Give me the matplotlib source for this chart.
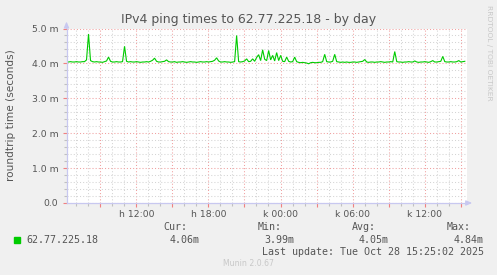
import numpy as np
import matplotlib
matplotlib.use("Agg")
import matplotlib.pyplot as plt
from matplotlib.ticker import MultipleLocator, FuncFormatter

# ---- data ----
title = "IPv4 ping times to 62.77.225.18 - by day"
ylabel = "roundtrip time (seconds)"
series_name = "62.77.225.18"
start_hour = 6.18          # hours since Mon 00:00 (first sample)
step_hour = 1.0 / 6.0      # 10-minute samples
x_range = (6.18, 39.53)
ping_ms = [
    4.05, 4.04, 4.05, 4.04, 4.04, 4.05, 4.04, 4.04, 4.05, 4.05,
    4.10, 4.84, 4.08, 4.05, 4.04, 4.05, 4.04, 4.04, 4.03, 4.05,
    4.07, 4.18, 4.06, 4.04, 4.04, 4.05, 4.04, 4.04, 4.05, 4.49,
    4.06, 4.04, 4.05, 4.04, 4.04, 4.05, 4.04, 4.03, 4.04, 4.04,
    4.05, 4.04, 4.06, 4.09, 4.15, 4.06, 4.04, 4.04, 4.05, 4.06,
    4.10, 4.05, 4.04, 4.04, 4.05, 4.03, 4.04, 4.04, 4.05, 4.04,
    4.03, 4.04, 4.05, 4.04, 4.04, 4.03, 4.04, 4.05, 4.04, 4.04,
    4.05, 4.04, 4.05, 4.06, 4.09, 4.16, 4.07, 4.04, 4.04, 4.05,
    4.04, 4.04, 4.03, 4.04, 4.05, 4.80, 4.05, 4.04, 4.05, 4.07,
    4.13, 4.05, 4.06, 4.13, 4.06, 4.17, 4.25, 4.08, 4.39, 4.12,
    4.08, 4.37, 4.10, 4.23, 4.07, 4.31, 4.08, 4.23, 4.06, 4.05,
    4.18, 4.06, 4.04, 4.05, 4.18, 4.05, 4.03, 4.02, 4.03, 4.02,
    4.01, 3.99, 4.02, 4.03, 4.02, 4.02, 4.03, 4.03, 4.05, 4.26,
    4.05, 4.04, 4.04, 4.06, 4.26, 4.05, 4.04, 4.03, 4.04, 4.03,
    4.04, 4.03, 4.03, 4.04, 4.04, 4.03, 4.04, 4.05, 4.06, 4.11,
    4.04, 4.03, 4.04, 4.04, 4.03, 4.04, 4.04, 4.05, 4.04, 4.03,
    4.04, 4.04, 4.05, 4.04, 4.34, 4.05, 4.04, 4.04, 4.03, 4.04,
    4.04, 4.05, 4.04, 4.04, 4.07, 4.04, 4.03, 4.04, 4.04, 4.05,
    4.04, 4.03, 4.05, 4.08, 4.04, 4.04, 4.05, 4.06, 4.20, 4.05,
    4.04, 4.04, 4.05, 4.04, 4.04, 4.05, 4.08, 4.04, 4.05, 4.06,
]
day_prefix = {0: "h", 1: "k"}
stat_names = ["Cur:", "Min:", "Avg:", "Max:"]
stat_values = ["4.06m", "3.99m", "4.05m", "4.84m"]
last_update = "Last update: Tue Oct 28 15:25:02 2025"
version_text = "Munin 2.0.67"
side_text = "RRDTOOL / TOBI OETIKER"

# ---- figure ----
W, H = 497, 275
fig = plt.figure(figsize=(W / 100, H / 100), dpi=100, facecolor="#f0f0f0")
L, R, T, B = 66.5, 467.0, 28.5, 203.0
ax = fig.add_axes([L / W, 1 - B / H, (R - L) / W, (B - T) / H])
ax.set_facecolor("white")

hours = start_hour + step_hour * np.arange(len(ping_ms))
ax.plot(hours, ping_ms, color="#00cc00", lw=0.8, zorder=5, solid_joinstyle="miter")

ax.set_xlim(*x_range)
ax.set_ylim(0, 5.0)

ax.xaxis.set_major_locator(MultipleLocator(3))
ax.xaxis.set_minor_locator(MultipleLocator(1))
ax.yaxis.set_major_locator(MultipleLocator(1))
ax.yaxis.set_minor_locator(MultipleLocator(0.2))


def xfmt(v, pos):
    h = int(round(v))
    if h % 6 != 0:
        return ""
    return f"{day_prefix[h // 24]} {h % 24:02d}:00"


def yfmt(v, pos):
    if abs(v) < 1e-9:
        return "0.0"
    return f"{v:.1f} m"


ax.xaxis.set_major_formatter(FuncFormatter(xfmt))
ax.yaxis.set_major_formatter(FuncFormatter(yfmt))

ax.grid(which="minor", color="#d4d4d4", linestyle=(0, (1, 2)), lw=0.75, zorder=1)
ax.grid(which="major", color="#f0a0a0", linestyle=(0, (1, 2)), lw=0.75, zorder=2)
ax.set_axisbelow(True)

ax.tick_params(which="major", axis="x", length=3, width=0.8, color="#f08080",
               labelsize=6.7, labelcolor="#555555", pad=2)
ax.tick_params(which="minor", axis="x", length=2, width=0.8, color="#c0c0c0")
ax.tick_params(which="major", axis="y", length=3, width=0.8, color="#f08080",
               labelsize=6.7, labelcolor="#555555", pad=3)
ax.tick_params(which="minor", axis="y", length=2, width=0.8, color="#c0c0c0")

for s in ["top", "right"]:
    ax.spines[s].set_visible(False)
for s in ["left", "bottom"]:
    ax.spines[s].set_color("#c8c8f0")
    ax.spines[s].set_linewidth(0.9)
    ax.spines[s].set_zorder(6)

# axis arrows
axcol = "#c8c8f0"
ax.annotate("", xy=(0, 1.04), xytext=(0, 1.0), xycoords="axes fraction",
            arrowprops=dict(arrowstyle="-|>,head_width=0.15,head_length=0.35",
                            color=axcol, lw=0.9, shrinkA=0, shrinkB=0),
            annotation_clip=False)
ax.annotate("", xy=(1.013, 0), xytext=(1.0, 0), xycoords="axes fraction",
            arrowprops=dict(arrowstyle="-|>,head_width=0.15,head_length=0.35",
                            color=axcol, lw=0.9, shrinkA=0, shrinkB=0),
            annotation_clip=False)

# texts
fig.text(248.3 / W, 1 - 19 / H, title, ha="center", va="center",
         fontsize=9, color="#555555", family="DejaVu Sans")
fig.text(11 / W, 1 - 115 / H, ylabel, ha="center", va="center", rotation=90,
         fontsize=7.6, color="#555555", family="DejaVu Sans")
fig.text(488.5 / W, 1 - 53 / H, side_text, ha="center", va="center", rotation=270,
         fontsize=5.4, color="#c8c8c8", family="DejaVu Sans")

mono = "DejaVu Sans Mono"
msz = 7.2
tcol = "#555555"
fig.patches.append(plt.Rectangle((14 / W, 1 - 242.7 / H), 6 / W, 5.4 / H,
                                 transform=fig.transFigure, color="#00cc00"))
fig.text(26.7 / W, 1 - 240 / H, series_name, ha="left", va="center",
         fontsize=msz, color=tcol, family=mono)
name_x = [163.3, 258.0, 351.7, 446.7]
val_x = [169.3, 264.3, 358.3, 453.3]
for nx, vx, n, v in zip(name_x, val_x, stat_names, stat_values):
    fig.text(nx / W, 1 - 227.3 / H, n, ha="left", va="center",
             fontsize=msz, color=tcol, family=mono)
    fig.text(vx / W, 1 - 240 / H, v, ha="left", va="center",
             fontsize=msz, color=tcol, family=mono)
fig.text(261.7 / W, 1 - 251.7 / H, last_update, ha="left", va="center",
         fontsize=msz, color=tcol, family=mono)
fig.text(223.3 / W, 1 - 264 / H, version_text, ha="left", va="center",
         fontsize=5.6, color="#c8c8c8", family="DejaVu Sans")

fig.savefig("out.png", dpi=100, facecolor=fig.get_facecolor())
